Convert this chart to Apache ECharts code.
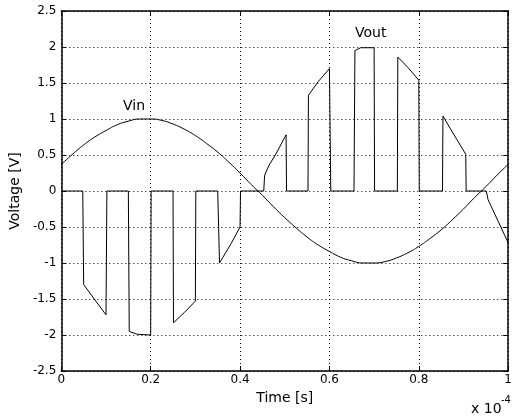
<!DOCTYPE html>
<html>
<head>
<meta charset="utf-8">
<script src="https://cdn.jsdelivr.net/npm/echarts@6/dist/echarts.min.js"></script>
<style>
  html, body { margin: 0; padding: 0; background: #fff; }
  #chart { width: 515px; height: 417px; }
</style>
</head>
<body>
<div id="chart"></div>
<script>
// time in units of 1e-4 s
var vinTime = [0, 0.025, 0.05, 0.075, 0.1, 0.125, 0.15, 0.175, 0.2, 0.225,
  0.25, 0.275, 0.3, 0.325, 0.35, 0.375, 0.4, 0.425, 0.45, 0.475,
  0.5, 0.525, 0.55, 0.575, 0.6, 0.625, 0.65, 0.675, 0.7, 0.725,
  0.75, 0.775, 0.8, 0.825, 0.85, 0.875, 0.9, 0.925, 0.95, 0.975, 1]
var vinValues = [0.37, 0.51, 0.64, 0.75, 0.84, 0.92, 0.97, 1.0, 1.0, 0.98,
  0.93, 0.86, 0.77, 0.66, 0.54, 0.4, 0.25, 0.09, -0.06, -0.22,
  -0.37, -0.51, -0.64, -0.75, -0.84, -0.92, -0.97, -1.0, -1.0, -0.98,
  -0.93, -0.86, -0.77, -0.66, -0.54, -0.4, -0.25, -0.09, 0.06, 0.22, 0.37]

var voutTime = [0, 0.048, 0.05, 0.1, 0.102,
  0.15, 0.152, 0.17, 0.2, 0.201,
  0.25, 0.251, 0.275, 0.3, 0.301,
  0.35, 0.354, 0.38, 0.4, 0.401,
  0.453, 0.455, 0.465, 0.479, 0.503, 0.504,
  0.552, 0.553, 0.575, 0.6, 0.603,
  0.655, 0.657, 0.67, 0.7, 0.701,
  0.752, 0.753, 0.775, 0.8, 0.801,
  0.853, 0.854, 0.875, 0.905, 0.906,
  0.951, 0.955, 1]
var voutValues = [0, 0, -1.3, -1.72, 0,
  0, -1.95, -1.99, -2.0, 0,
  0, -1.83, -1.69, -1.53, 0,
  0, -1.0, -0.73, -0.5, 0,
  0, 0.22, 0.36, 0.5, 0.78, 0,
  0, 1.33, 1.52, 1.7, 0,
  0, 1.95, 1.99, 1.99, 0,
  0, 1.86, 1.72, 1.54, 0,
  0, 1.04, 0.82, 0.51, 0,
  0, -0.12, -0.72]

var xTicks = [0, 0.2, 0.4, 0.6, 0.8, 1]
var yTicks = [-2.5, -2, -1.5, -1, -0.5, 0, 0.5, 1, 1.5, 2, 2.5]

function pairs (t, v) {
  return t.map(function (x, i) { return [x, v[i]] })
}

var chartDom = document.getElementById('chart')
var myChart = echarts.init(chartDom)
var option

var font = 'DejaVu Sans, sans-serif'
var tickStyle = { show: true, inside: true, length: 5, lineStyle: { color: '#000', width: 1 } }
var gridStyle = { show: true, lineStyle: { color: '#000', type: [1, 3], width: 1 } }

function xAxisDef (pos, main) {
  return {
    type: 'value',
    position: pos,
    min: xTicks[0],
    max: xTicks[xTicks.length - 1],
    interval: 0.2,
    name: main ? 'Time [s]' : '',
    nameLocation: 'middle',
    nameGap: 16,
    nameTextStyle: { color: '#000', fontSize: 14, fontFamily: font },
    axisLine: { show: true, onZero: false, lineStyle: { color: '#000', width: 1.5 } },
    axisTick: tickStyle,
    axisLabel: { show: main, color: '#000', fontSize: 12, fontFamily: font, margin: 3 },
    splitLine: main ? gridStyle : { show: false }
  }
}

function yAxisDef (pos, main) {
  return {
    type: 'value',
    position: pos,
    min: yTicks[0],
    max: yTicks[yTicks.length - 1],
    interval: 0.5,
    name: main ? 'Voltage [V]' : '',
    nameLocation: 'middle',
    nameGap: 37,
    nameTextStyle: { color: '#000', fontSize: 14, fontFamily: font },
    axisLine: { show: true, onZero: false, lineStyle: { color: '#000', width: 1.5 } },
    axisTick: tickStyle,
    axisLabel: { show: main, color: '#000', fontSize: 12, fontFamily: font, margin: 5 },
    splitLine: main ? gridStyle : { show: false }
  }
}

option = {
  backgroundColor: '#fff',
  animation: false,
  grid: { left: 60, right: 3, top: 11, bottom: 46 },
  xAxis: [xAxisDef('bottom', true), xAxisDef('top', false)],
  yAxis: [yAxisDef('left', true), yAxisDef('right', false)],
  graphic: [
    { type: 'text', left: 123, top: 99, style: { text: 'Vin', font: '14px ' + font, fill: '#000' } },
    { type: 'text', left: 355, top: 26, style: { text: 'Vout', font: '14px ' + font, fill: '#000' } },
    { type: 'text', left: 471, top: 402, style: { text: 'x 10', font: '14px ' + font, fill: '#000' } },
    { type: 'text', left: 501, top: 395, style: { text: '-4', font: '10px ' + font, fill: '#000' } }
  ],
  series: [
    {
      name: 'Vin',
      type: 'line',
      data: pairs(vinTime, vinValues),
      smooth: true,
      showSymbol: false,
      lineStyle: { color: '#000', width: 1 }
    },
    {
      name: 'Vout',
      type: 'line',
      data: pairs(voutTime, voutValues),
      showSymbol: false,
      lineStyle: { color: '#000', width: 1 }
    }
  ]
}

option && myChart.setOption(option)
</script>
</body>
</html>
